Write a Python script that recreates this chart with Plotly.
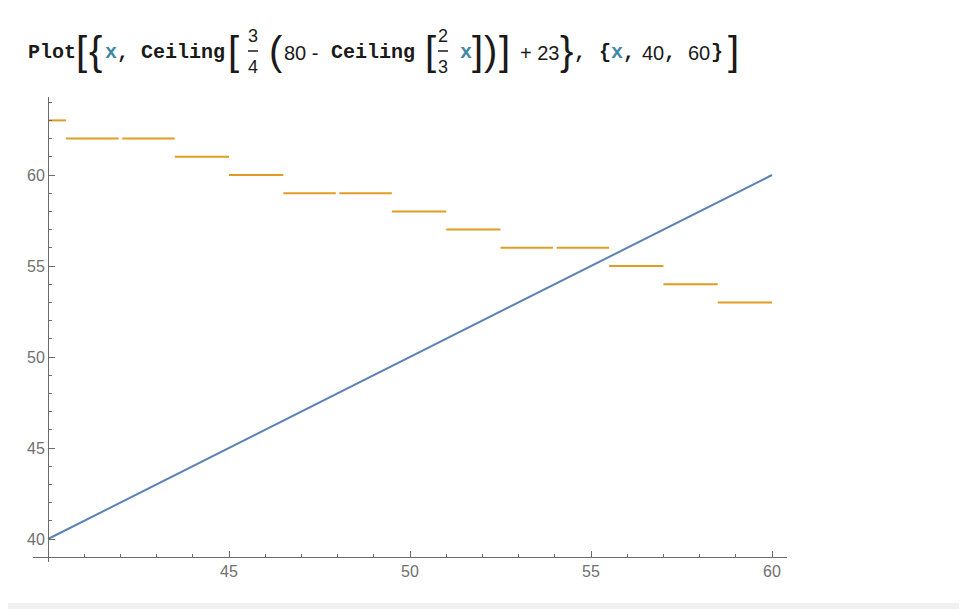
import plotly.graph_objects as go

# ---------------- data ----------------
x_line = [40, 60]
y_line = [40, 60]

step_breaks = [40, 40.5, 42, 43.5, 45, 46.5, 48, 49.5, 51, 52.5, 54, 55.5, 57, 58.5, 60]
step_levels = [63, 62, 62, 61, 60, 59, 59, 58, 57, 56, 56, 55, 54, 53]

x_tickvals = [45, 50, 55, 60]
y_tickvals = [40, 45, 50, 55, 60]

# ---------------- geometry (page pixels) ----------------
W_PAGE, H_PAGE = 967, 609
OFF = 8                          # default body margin of the html page
L, R, T, B = 33, 787, 97, 562    # plot-area box in page pixels
PW, PH = R - L, B - T

def px(xp):
    return (xp - L) / PW

def py(yp):
    return (B - yp) / PH

BLUE = "#5E81B5"
ORANGE = "#E19C24"
AXIS = "#6b6b6b"
TEAL = "#3f8aa6"

# step segments (small exclusion gap where the level does not change)
gap = 0.05
sx, sy = [], []
for i, lev in enumerate(step_levels):
    a, b = step_breaks[i], step_breaks[i + 1]
    if i > 0 and step_levels[i - 1] == lev:
        a += gap
    if i < len(step_levels) - 1 and step_levels[i + 1] == lev:
        b -= gap
    sx += [a, b, None]
    sy += [lev, lev, None]

fig = go.Figure()
fig.add_trace(go.Scatter(x=x_line, y=y_line, mode="lines",
                         line=dict(color=BLUE, width=2), hoverinfo="skip"))
fig.add_trace(go.Scatter(x=sx, y=sy, mode="lines",
                         line=dict(color=ORANGE, width=2), hoverinfo="skip",
                         connectgaps=False))

x_per_px = 20 / (772 - 48)
y_per_px = 20 / (539 - 175)
xr = [40 - (48 - L) * x_per_px, 60 + (R - 772) * x_per_px]
yr = [40 - (B - 539) * y_per_px, 40 + (539 - T) * y_per_px]

tickfont = dict(family="Liberation Sans", size=16, color="#707070")

fig.update_layout(
    width=W_PAGE - OFF, height=H_PAGE - OFF,
    margin=dict(l=L - OFF, r=W_PAGE - R, t=T - OFF, b=H_PAGE - B, pad=0),
    paper_bgcolor="white", plot_bgcolor="white",
    showlegend=False,
    xaxis=dict(range=xr, domain=[0, 1], anchor="free", position=py(557),
               showgrid=False, zeroline=False, showline=True, linecolor=AXIS, linewidth=1,
               tickmode="array", tickvals=x_tickvals, ticks="inside", ticklen=6,
               tickcolor=AXIS, tickfont=tickfont,
               minor=dict(tickmode="linear", tick0=0, dtick=1, ticks="inside",
                          ticklen=3, tickcolor=AXIS, showgrid=False)),
    yaxis=dict(range=yr, domain=[0, 1], anchor="free", position=px(48),
               showgrid=False, zeroline=False, showline=True, linecolor=AXIS, linewidth=1,
               tickmode="array", tickvals=y_tickvals, ticks="inside", ticklen=6,
               tickcolor=AXIS, tickfont=tickfont,
               minor=dict(tickmode="linear", tick0=0, dtick=1, ticks="inside",
                          ticklen=3, tickcolor=AXIS, showgrid=False)),
)

# grey band at bottom of page
fig.add_shape(type="rect", xref="paper", yref="paper",
              x0=px(OFF), x1=px(W_PAGE), y0=py(H_PAGE), y1=py(603),
              fillcolor="#f0f0f0", line=dict(width=0), layer="below")

# ---------------- header expression ----------------
MONO = "Liberation Mono"
SANS = "Liberation Sans"
INK = "#1a1a1a"
YMID = 52

def txt(x, y, s, family=MONO, size=20, color=INK, bold=True, anchor="left"):
    t = f"<b>{s}</b>" if bold else s
    fig.add_annotation(x=px(x), y=py(y), xref="paper", yref="paper", text=t,
                       showarrow=False, xanchor=anchor, yanchor="middle",
                       font=dict(family=family, size=size, color=color))

def big(x, s):
    txt(x, YMID - 1, s, family=SANS, size=40, bold=False, anchor="center")

def frac(xc, num, den):
    txt(xc, 36, num, family=SANS, size=18, bold=False, anchor="center")
    txt(xc, 67, den, family=SANS, size=18, bold=False, anchor="center")
    fig.add_shape(type="line", xref="paper", yref="paper",
                  x0=px(xc - 5), x1=px(xc + 5), y0=py(51), y1=py(51),
                  line=dict(color=INK, width=1.5))

txt(26, YMID, "Plot")
big(81, "[")
big(95, "{")
txt(103, YMID, f"<span style='color:{TEAL}'>x</span>, Ceiling")
big(233, "[")
frac(253, "3", "4")
big(276, "(")
txt(282, YMID + 1, "80 - ", family=SANS, size=20, bold=False)
txt(329, YMID, "Ceiling")
big(430, "[")
frac(443, "2", "3")
txt(458, YMID, f"<span style='color:{TEAL}'>x</span>")
big(477, "]")
big(490, ")")
big(504, "]")
txt(518, YMID + 1, "+ 23", family=SANS, size=20, bold=False)
big(566, "}")
txt(572, YMID, ",")
txt(597, YMID, f"{{<span style='color:{TEAL}'>x</span>,")
txt(640, YMID + 1, "40", family=SANS, size=20, bold=False)
txt(662, YMID, ",")
txt(686, YMID + 1, "60", family=SANS, size=20, bold=False)
txt(709, YMID, "}")
big(733, "]")

fig.write_html("out.html")
